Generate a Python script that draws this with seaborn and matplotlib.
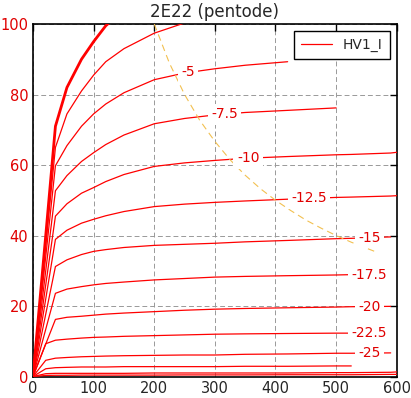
import numpy as np
import pandas as pd
import matplotlib
matplotlib.use("Agg")
import matplotlib.pyplot as plt
import seaborn as sns

# plate voltage sample points (V)
vp = [0, 21, 37, 56, 80, 100, 120, 150, 200, 250, 300, 350, 420, 500, 525, 590, 600]
nan = np.nan

# plate current (mA) per grid voltage
ip_g0 = [0, 40, 71, 82, 90, 95, 99.5, 104, 108, nan, nan, nan, nan, nan, nan, nan, nan]
ip_g2_5 = [0, 37, 65, 74.5, 81, 85.5, 89.3, 93, 97.4, 100.3, 102, nan, nan, nan, nan, nan, nan]
ip_g5 = [0, 34, 59.8, 65.5, 71, 74.5, 77.3, 80.5, 84.2, 86.1, 87.3, 88.3, 89.3, nan, nan, nan, nan]
ip_g7_5 = [0, 30, 52.7, 57, 61, 63.5, 65.8, 68.5, 71.7, 73.2, 74.2, 74.9, 75.5, 76.2, nan, nan, nan]
ip_g10 = [0, 26, 45.5, 49, 52, 53.6, 55.3, 57.3, 59.6, 60.6, 61.3, 61.9, 62.4, 62.9, 63.0, 63.4, 63.6]
ip_g12_5 = [0, 22, 38.9, 41.5, 43.5, 44.6, 45.6, 46.8, 48.2, 48.9, 49.4, 49.8, 50.3, 50.8, 50.9, 51.2, 51.3]
ip_g15 = [0, 17.7, 31.2, 33.1, 34.6, 35.5, 36.0, 36.6, 37.2, 37.5, 37.8, 38.2, 38.6, 39.1, 39.2, 39.6, nan]
ip_g17_5 = [0, 13.4, 23.6, 24.8, 25.5, 26, 26.4, 26.8, 27.4, 27.8, 28.2, 28.4, 28.6, 28.8, 28.9, nan, nan]
ip_g20 = [0, 9.2, 16.2, 16.8, 17.1, 17.4, 17.7, 18.0, 18.4, 18.8, 19.1, 19.3, 19.5, 19.7, 19.8, 19.9, nan]
ip_g22_5 = [0, 9.3, 10.3, 10.6, 10.9, 11.1, 11.2, 11.4, 11.6, 11.8, 12.0, 12.1, 12.2, 12.3, 12.3, nan, nan]
ip_g25 = [0, 4.6, 5.2, 5.4, 5.6, 5.7, 5.8, 5.9, 6.0, 6.1, 6.1, 6.3, 6.4, 6.6, 6.6, 6.7, nan]
ip_g27_5 = [0, 2.2, 2.5, 2.6, 2.7, 2.7, 2.7, 2.8, 2.8, 2.8, 2.8, 2.9, 2.9, 3.0, 3.0, nan, nan]
ip_g30 = [0, 0.8, 0.9, 0.9, 0.9, 0.9, 0.9, 0.9, 1.0, 1.0, 1.0, 1.0, 1.0, 1.1, 1.1, 1.2, 1.3]
ip_g32_5 = [0, 0.3, 0.35, 0.35, 0.4, 0.4, 0.4, 0.4, 0.4, 0.45, 0.45, 0.45, 0.5, 0.5, 0.5, 0.6, 0.6]

curves = [ip_g0, ip_g2_5, ip_g5, ip_g7_5, ip_g10, ip_g12_5, ip_g15,
          ip_g17_5, ip_g20, ip_g22_5, ip_g25, ip_g27_5, ip_g30, ip_g32_5]

# curve labels and where they sit along the plate voltage axis
label_text = ["-5", "-7.5", "-10", "-12.5", "-15", "-17.5", "-20", "-22.5", "-25"]
label_curve = [ip_g5, ip_g7_5, ip_g10, ip_g12_5, ip_g15, ip_g17_5, ip_g20, ip_g22_5, ip_g25]
label_vp = [256, 316, 355, 455, 555, 555, 555, 555, 555]

# max plate dissipation line
vp_pmax = [200, 225, 250, 275, 300, 325, 350, 375, 400, 425, 450, 475, 500, 525, 550, 568]
ip_pmax = [100, 88.9, 80, 72.7, 66.7, 61.5, 57.1, 53.3, 50, 47.1, 44.4, 42.1, 40, 38.1, 36.4, 35.2]

sns.set_style("white")
plt.rcParams["font.family"] = ["DejaVu Sans"]

red = "#e00000"
fig = plt.figure(figsize=(4.11, 3.98), dpi=100)
ax = fig.add_axes([0.0803, 0.054, 0.885, 0.8857])

for i, ip in enumerate(curves):
    df = pd.DataFrame({"vp": vp, "ip": ip}).dropna()
    sns.lineplot(data=df, x="vp", y="ip", ax=ax, color="red",
                 lw=2.0 if i == 0 else 0.9, sort=False, estimator=None,
                 label="HV1_I" if i == 2 else None, legend=False, zorder=3)

sns.lineplot(x=vp_pmax, y=ip_pmax, ax=ax, color="#f2c050", lw=0.8,
             dashes=False, linestyle=(0, (6, 4)), sort=False, estimator=None, zorder=3)

for txt, ip, x in zip(label_text, label_curve, label_vp):
    df = pd.DataFrame({"vp": vp, "ip": ip}).dropna()
    y = np.interp(x, df["vp"], df["ip"])
    ax.text(x, y, txt, color=red, fontsize=10, ha="center", va="center", zorder=5,
            bbox=dict(facecolor="white", edgecolor="none", pad=2.5))

ax.set_xlim(0, 600)
ax.set_ylim(0, 100)
ax.set_xticks(range(0, 601, 100))
ax.set_yticks(range(0, 101, 20))
ax.set_xlabel("")
ax.set_ylabel("")
ax.grid(True, color="#999999", linestyle=(0, (5, 3)), lw=0.7)
ax.tick_params(direction="in", top=True, right=True, length=5, width=1,
               labelsize=10.5, color="black")
ax.tick_params(axis="y", labelcolor=red)
for s in ax.spines.values():
    s.set_color("black")
    s.set_linewidth(1.2)
ax.set_title("2E22 (pentode)", fontsize=12, pad=5)

leg = ax.legend(loc="upper right", fontsize=10, fancybox=False, framealpha=1,
                edgecolor="black", handlelength=2.2, borderpad=0.5)
leg.get_frame().set_linewidth(1.0)

fig.savefig("out.png", dpi=100)
